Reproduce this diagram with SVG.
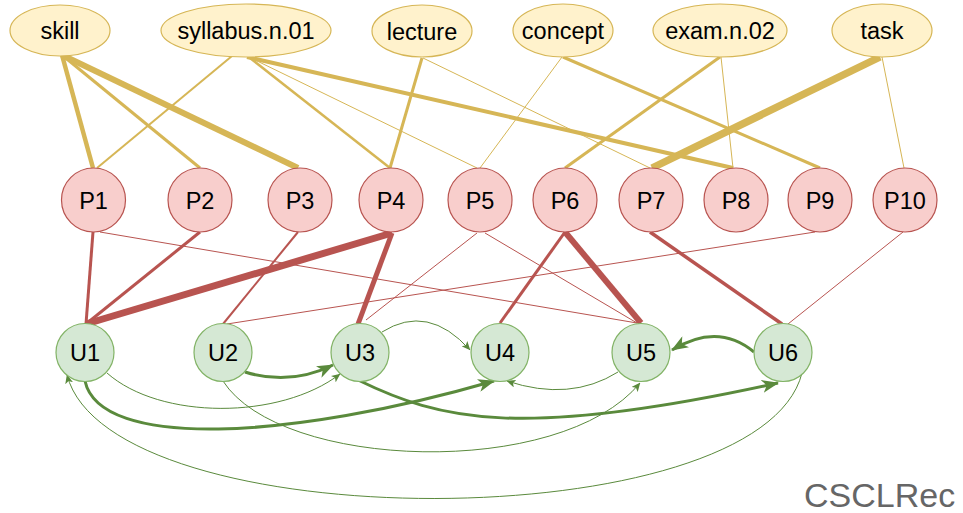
<svg xmlns="http://www.w3.org/2000/svg" width="963" height="513" viewBox="0 0 963 513">
<style>
.ell{fill:#fff2cc;stroke:#d6b656;stroke-width:1.2}
.p{fill:#f8cecc;stroke:#b85450;stroke-width:1.2}
.u{fill:#d5e8d4;stroke:#82b366;stroke-width:1.2}
.t{font-family:"Liberation Sans",Arial,sans-serif;font-size:23.5px;fill:#000;text-anchor:middle}
.y{stroke:#d6b656;fill:none}
.r{stroke:#b85450;fill:none}
.g{stroke:#5a8a3c;fill:none}
.gs{marker-end:url(#arrS)}
.gl{marker-end:url(#arrL)}
</style>
<defs>
<marker id="arrS" markerUnits="userSpaceOnUse" markerWidth="9" markerHeight="8" viewBox="0 0 9 8" refX="8.5" refY="4" orient="auto"><path d="M0,0 L9,4 L0,8 L2.2,4 Z" fill="#5a8a3c"/></marker>
<marker id="arrL" markerUnits="userSpaceOnUse" markerWidth="17" markerHeight="13" viewBox="0 0 17 13" refX="16" refY="6.5" orient="auto"><path d="M0,0 L17,6.5 L0,13 L4.5,6.5 Z" fill="#5a8a3c"/></marker>
</defs>
<rect width="963" height="513" fill="#fff"/>
<g id="connectors">
<!-- concept/keyword to P -->
<line class="y" x1="62" y1="55" x2="93" y2="168" stroke-width="4.5"/>
<line class="y" x1="62" y1="55" x2="200" y2="168" stroke-width="3"/>
<line class="y" x1="62" y1="55" x2="298" y2="168" stroke-width="6"/>
<line class="y" x1="232" y1="56" x2="97" y2="168" stroke-width="2"/>
<line class="y" x1="250" y1="58" x2="390" y2="168" stroke-width="2.5"/>
<line class="y" x1="253" y1="59" x2="477" y2="168" stroke-width="1"/>
<line class="y" x1="247" y1="57" x2="733" y2="168" stroke-width="4"/>
<line class="y" x1="422" y1="58" x2="390" y2="168" stroke-width="3"/>
<line class="y" x1="423" y1="58" x2="650" y2="168" stroke-width="1"/>
<line class="y" x1="562" y1="57" x2="480" y2="168" stroke-width="1"/>
<line class="y" x1="563" y1="57" x2="820" y2="168" stroke-width="3"/>
<line class="y" x1="720" y1="57" x2="565" y2="168" stroke-width="3"/>
<line class="y" x1="721" y1="57" x2="733" y2="168" stroke-width="1"/>
<line class="y" x1="880" y1="57" x2="652" y2="168" stroke-width="7.5"/>
<line class="y" x1="882" y1="57" x2="904" y2="168" stroke-width="1"/>
<!-- P to U -->
<line class="r" x1="93" y1="232" x2="86" y2="324" stroke-width="3"/>
<line class="r" x1="100" y1="232" x2="637" y2="323" stroke-width="1"/>
<line class="r" x1="200" y1="232" x2="86" y2="324" stroke-width="3"/>
<line class="r" x1="298" y1="232" x2="223" y2="324" stroke-width="2"/>
<line class="r" x1="392" y1="233" x2="86" y2="324" stroke-width="7"/>
<line class="r" x1="392" y1="233" x2="358" y2="324" stroke-width="5"/>
<line class="r" x1="477" y1="233" x2="366" y2="320" stroke-width="1"/>
<line class="r" x1="485" y1="233" x2="637" y2="323" stroke-width="1"/>
<line class="r" x1="815" y1="232" x2="227" y2="324" stroke-width="1"/>
<line class="r" x1="565" y1="232" x2="500" y2="323" stroke-width="3"/>
<line class="r" x1="565" y1="232" x2="641" y2="323" stroke-width="6"/>
<line class="r" x1="650" y1="232" x2="782" y2="324" stroke-width="3.5"/>
<line class="r" x1="903" y1="232" x2="788" y2="324" stroke-width="1"/>
<!-- U to U -->
<path class="g gs" d="M382 332 Q428 303 470 350" stroke-width="1"/>
<path class="g gl" d="M245 372 Q290 386 333 365" stroke-width="3"/>
<path class="g gl" d="M754 352 Q718 322 672 350" stroke-width="3"/>
<path class="g gs" d="M107 373 C160 420 280 420 340 374" stroke-width="1"/>
<path class="g gl" d="M85 381 C100 450 290 440 494 381" stroke-width="3"/>
<path class="g gl" d="M358 380 C440 420 520 440 778 383" stroke-width="3"/>
<path class="g gs" d="M802 373 C760 540 110 540 67 375" stroke-width="1"/>
<path class="g gs" d="M223 381 C280 470 560 480 640 383" stroke-width="1"/>
<path class="g gs" d="M618 372 Q570 402 507 381" stroke-width="1"/>
</g>
<g id="skill"><ellipse class="ell" cx="60" cy="30.5" rx="50" ry="25.5"/><text class="t" x="60" y="39">skill</text></g>
<g id="syllabus"><ellipse class="ell" cx="246" cy="30.5" rx="85" ry="26.5"/><text class="t" x="246" y="39">syllabus.n.01</text></g>
<g id="lecture"><ellipse class="ell" cx="422" cy="31" rx="50" ry="26"/><text class="t" x="422" y="39.5">lecture</text></g>
<g id="concept"><ellipse class="ell" cx="563" cy="30.5" rx="50" ry="26.5"/><text class="t" x="563" y="39">concept</text></g>
<g id="exam"><ellipse class="ell" cx="720" cy="30.5" rx="67" ry="26.5"/><text class="t" x="720" y="39">exam.n.02</text></g>
<g id="task"><ellipse class="ell" cx="882" cy="30.5" rx="50" ry="26.5"/><text class="t" x="882" y="39">task</text></g>
<g id="P1"><circle class="p" cx="93.5" cy="200" r="32"/><text class="t" x="93.5" y="209">P1</text></g>
<g id="P2"><circle class="p" cx="200" cy="200" r="32"/><text class="t" x="200" y="209">P2</text></g>
<g id="P3"><circle class="p" cx="300" cy="200" r="32"/><text class="t" x="300" y="209">P3</text></g>
<g id="P4"><circle class="p" cx="391" cy="200" r="32"/><text class="t" x="391" y="209">P4</text></g>
<g id="P5"><circle class="p" cx="480" cy="200" r="32"/><text class="t" x="480" y="209">P5</text></g>
<g id="P6"><circle class="p" cx="565" cy="200" r="32"/><text class="t" x="565" y="209">P6</text></g>
<g id="P7"><circle class="p" cx="651" cy="200" r="32"/><text class="t" x="651" y="209">P7</text></g>
<g id="P8"><circle class="p" cx="736" cy="200" r="32"/><text class="t" x="736" y="209">P8</text></g>
<g id="P9"><circle class="p" cx="820" cy="200" r="32"/><text class="t" x="820" y="209">P9</text></g>
<g id="P10"><circle class="p" cx="905" cy="200" r="32"/><text class="t" x="905" y="209">P10</text></g>
<g id="U1"><circle class="u" cx="85" cy="352.5" r="29"/><text class="t" x="85" y="361">U1</text></g>
<g id="U2"><circle class="u" cx="223" cy="352.5" r="29"/><text class="t" x="223" y="361">U2</text></g>
<g id="U3"><circle class="u" cx="360" cy="352.5" r="29"/><text class="t" x="360" y="361">U3</text></g>
<g id="U4"><circle class="u" cx="500" cy="352.5" r="29"/><text class="t" x="500" y="361">U4</text></g>
<g id="U5"><circle class="u" cx="641" cy="352.5" r="29"/><text class="t" x="641" y="361">U5</text></g>
<g id="U6"><circle class="u" cx="783" cy="352.5" r="29"/><text class="t" x="783" y="361">U6</text></g>
<text x="804" y="507" font-family="'Liberation Sans',Arial,sans-serif" font-size="34" fill="#666">CSCLRec</text>
</svg>
